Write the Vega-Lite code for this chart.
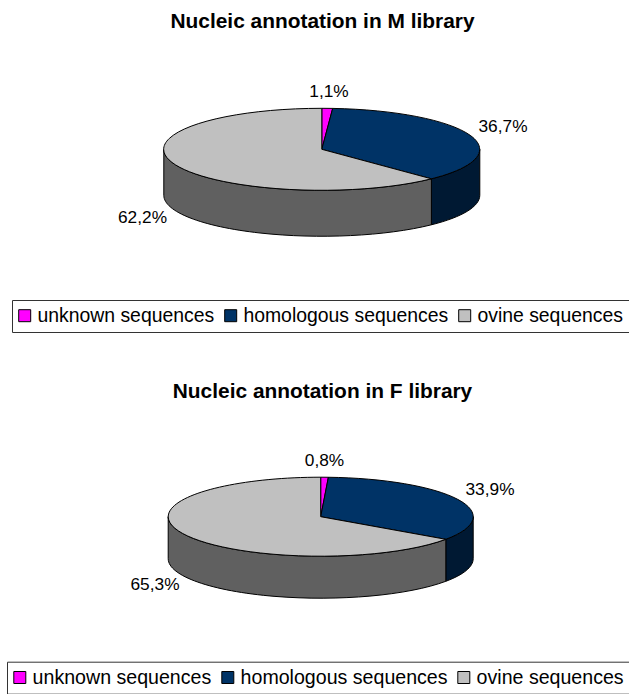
{"$schema":"https://vega.github.io/schema/vega-lite/v6.json","background":"white","padding":{"left":0,"top":11,"right":0,"bottom":0},"spacing":40.7,"config":{"view":{"stroke":null},"font":"Liberation Sans"},"resolve":{"scale":{"fill":"independent","shape":"independent"},"legend":{"fill":"independent"}},"data":{"values":[{"library":"M","category":"unknown sequences","percent":1.1,"label":"1,1%"},{"library":"M","category":"homologous sequences","percent":36.7,"label":"36,7%"},{"library":"M","category":"ovine sequences","percent":62.2,"label":"62,2%"},{"library":"F","category":"unknown sequences","percent":0.8,"label":"0,8%"},{"library":"F","category":"homologous sequences","percent":33.9,"label":"33,9%"},{"library":"F","category":"ovine sequences","percent":65.3,"label":"65,3%"}]},"vconcat":[{"width":629,"height":304,"title":{"text":"Nucleic annotation in M library","font":"Liberation Sans","fontSize":20.9,"fontWeight":"bold","color":"black","anchor":"middle","dx":8,"offset":4},"transform":[{"filter":"datum.library==='M'"}],"resolve":{"scale":{"shape":"independent"}},"layer":[{"transform":[{"filter":"datum.category!=='unknown sequences'"}],"mark":{"type":"point","filled":true,"size":4,"opacity":1,"stroke":"black","strokeWidth":1},"encoding":{"fill":{"condition":{"test":"datum.category==='ovine sequences'","value":"#606060"},"value":"#001933"},"shape":{"field":"category","type":"nominal","legend":null,"scale":{"domain":["homologous sequences","ovine sequences"],"range":["M165.3,-38.7 A158,41 0 0 1 116.9,-9.2 L116.9,36.8 A158,41 0 0 0 165.3,7.3 Z","M116.9,-9.2 A158,41 0 0 1 -150.7,-38.7 L-150.7,7.3 A158,41 0 0 0 116.9,36.8 Z"]}}}},{"mark":{"type":"point","filled":true,"size":4,"opacity":1,"stroke":"black","strokeWidth":1},"encoding":{"fill":{"field":"category","type":"nominal","scale":{"domain":["unknown sequences","homologous sequences","ovine sequences"],"range":["#FF00FF","#003366","#C0C0C0"]},"legend":{"orient":"none","legendX":12,"legendY":264,"direction":"horizontal","columns":3,"title":null,"symbolType":"square","symbolSize":144,"symbolOffset":-3,"symbolStrokeColor":"black","symbolStrokeWidth":1,"symbolOpacity":1,"labelFont":"Liberation Sans","labelFontSize":19.4,"labelLimit":300,"labelColor":"black","fillColor":"white","strokeColor":"#333333","padding":6,"columnPadding":7,"labelOffset":3,"gridAlign":"none"}},"shape":{"field":"category","type":"nominal","legend":null,"scale":{"domain":["unknown sequences","homologous sequences","ovine sequences"],"range":["M7.3,-38.7 L7.3,-79.7 A158,41 0 0 1 18.2,-79.6 Z","M7.3,-38.7 L18.2,-79.6 A158,41 0 0 1 116.9,-9.2 Z","M7.3,-38.7 L116.9,-9.2 A158,41 0 1 1 7.3,-79.7 Z"]}}}},{"mark":{"type":"text","font":"Liberation Sans","fontSize":17.3,"color":"black","align":"center","baseline":"middle"},"encoding":{"text":{"field":"label"},"x":{"field":"percent","type":"quantitative","axis":null,"scale":{"zero":false,"nice":false,"domain":[1.1,36.7,62.2],"range":[329,503,142.5]}},"y":{"field":"percent","type":"quantitative","axis":null,"scale":{"zero":false,"nice":false,"domain":[1.1,36.7,62.2],"range":[56,91,182]}}}}]},{"width":629,"height":289,"title":{"text":"Nucleic annotation in F library","font":"Liberation Sans","fontSize":20.9,"fontWeight":"bold","color":"black","anchor":"middle","dx":8,"offset":4},"transform":[{"filter":"datum.library==='F'"}],"resolve":{"scale":{"shape":"independent"}},"layer":[{"transform":[{"filter":"datum.category!=='unknown sequences'"}],"mark":{"type":"point","filled":true,"size":4,"opacity":1,"stroke":"black","strokeWidth":1},"encoding":{"fill":{"condition":{"test":"datum.category==='ovine sequences'","value":"#606060"},"value":"#001933"},"shape":{"field":"category","type":"nominal","legend":null,"scale":{"domain":["homologous sequences","ovine sequences"],"range":["M158.7,-33.5 A152.5,39.5 0 0 1 131.3,-10.9 L131.3,31.1 A152.5,39.5 0 0 0 158.7,8.5 Z","M131.3,-10.9 A152.5,39.5 0 0 1 -146.3,-33.5 L-146.3,8.5 A152.5,39.5 0 0 0 131.3,31.1 Z"]}}}},{"mark":{"type":"point","filled":true,"size":4,"opacity":1,"stroke":"black","strokeWidth":1},"encoding":{"fill":{"field":"category","type":"nominal","scale":{"domain":["unknown sequences","homologous sequences","ovine sequences"],"range":["#FF00FF","#003366","#C0C0C0"]},"legend":{"orient":"none","legendX":7,"legendY":256,"direction":"horizontal","columns":3,"title":null,"symbolType":"square","symbolSize":144,"symbolOffset":-3,"symbolStrokeColor":"black","symbolStrokeWidth":1,"symbolOpacity":1,"labelFont":"Liberation Sans","labelFontSize":19.6,"labelLimit":300,"labelColor":"black","fillColor":"white","strokeColor":"#333333","padding":6,"columnPadding":7,"labelOffset":3,"gridAlign":"none"}},"shape":{"field":"category","type":"nominal","legend":null,"scale":{"domain":["unknown sequences","homologous sequences","ovine sequences"],"range":["M6.2,-33.5 L6.2,-73 A152.5,39.5 0 0 1 13.9,-72.95 Z","M6.2,-33.5 L13.9,-72.95 A152.5,39.5 0 0 1 131.3,-10.9 Z","M6.2,-33.5 L131.3,-10.9 A152.5,39.5 0 1 1 6.2,-73 Z"]}}}},{"mark":{"type":"text","font":"Liberation Sans","fontSize":17.3,"color":"black","align":"center","baseline":"middle"},"encoding":{"text":{"field":"label"},"x":{"field":"percent","type":"quantitative","axis":null,"scale":{"zero":false,"nice":false,"domain":[0.8,33.9,65.3],"range":[324.5,490,155]}},"y":{"field":"percent","type":"quantitative","axis":null,"scale":{"zero":false,"nice":false,"domain":[0.8,33.9,65.3],"range":[55,84,179]}}}}]}]}
